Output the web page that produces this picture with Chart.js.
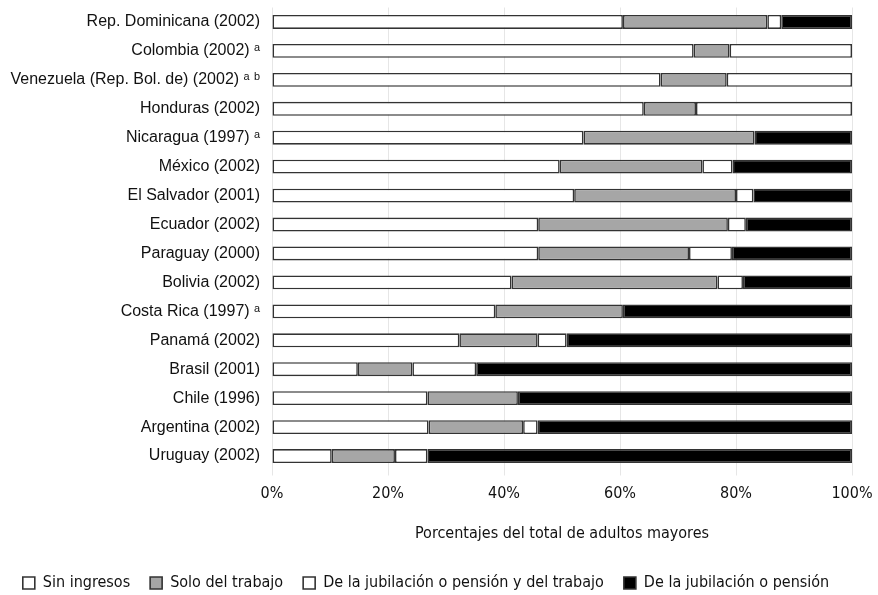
<!DOCTYPE html>
<html>
<head>
<meta charset="utf-8">
<script src="https://cdn.jsdelivr.net/npm/chart.js@4"></script>
<style>
  html, body { margin: 0; padding: 0; background: #fff; overflow: hidden; }
  #wrap { width: 878px; height: 595px; }
</style>
</head>
<body>
<div id="wrap"><canvas id="chart"></canvas></div>
<script>
const countries = [
  "Rep. Dominicana (2002)",
  "Colombia (2002) ᵃ",
  "Venezuela (Rep. Bol. de) (2002) ᵃ ᵇ",
  "Honduras (2002)",
  "Nicaragua (1997) ᵃ",
  "México (2002)",
  "El Salvador (2001)",
  "Ecuador (2002)",
  "Paraguay (2000)",
  "Bolivia (2002)",
  "Costa Rica (1997) ᵃ",
  "Panamá (2002)",
  "Brasil (2001)",
  "Chile (1996)",
  "Argentina (2002)",
  "Uruguay (2002)",
];

// porcentajes por categoría de ingreso
const sinIngresos = [60.5, 72.7, 67.0, 64.1, 53.7, 49.6, 52.1, 45.9, 45.9, 41.3, 38.5, 32.3, 14.8, 26.8, 27.0, 10.3];
const soloTrabajo = [24.9, 6.2, 11.4, 9.0, 29.5, 24.6, 27.9, 32.7, 26.0, 35.5, 22.0, 13.5, 9.4, 15.6, 16.3, 10.9];
const jubYTrabajo = [2.4, 21.1, 21.6, 26.9, 0, 5.2, 3.0, 3.1, 7.4, 4.4, 0, 5.0, 11.0, 0, 2.5, 5.6];
const soloJubilacion = [12.2, 0, 0, 0, 16.8, 20.6, 17.0, 18.3, 20.7, 18.8, 39.5, 49.2, 64.8, 57.6, 54.2, 73.2];

const xTicks = [0, 20, 40, 60, 80, 100];

const narrow = "'Liberation Sans Narrow', 'DejaVu Sans Condensed', sans-serif";

function serie(label, data, color) {
  return {
    label: label,
    data: data,
    backgroundColor: color,
    borderColor: "#333",
    borderWidth: 1.6,
    borderSkipped: false,
    barPercentage: 0.48,
    categoryPercentage: 1,
  };
}

new Chart(document.getElementById("chart"), {
  type: "bar",
  data: {
    labels: countries,
    datasets: [
      serie("Sin ingresos", sinIngresos, "#ffffff"),
      serie("Solo del trabajo", soloTrabajo, "#a6a6a6"),
      serie("De la jubilación o pensión y del trabajo", jubYTrabajo, "#ffffff"),
      serie("De la jubilación o pensión", soloJubilacion, "#000000"),
    ],
  },
  options: {
    indexAxis: "y",
    responsive: true,
    maintainAspectRatio: false,
    animation: false,
    layout: { padding: { top: 7.5, right: 26, left: 0, bottom: -6 } },
    plugins: {
      tooltip: { enabled: false },
      legend: {
        position: "bottom",
        labels: {
          boxWidth: 12,
          boxHeight: 12,
          padding: 20,
          color: "#111",
          font: { family: narrow, size: 16 },
        },
      },
    },
    scales: {
      x: {
        stacked: true,
        min: 0,
        max: 100,
        afterBuildTicks: (scale) => {
          scale.ticks = xTicks.map((v) => ({ value: v }));
        },
        afterFit: (scale) => {
          scale.height = 84.5;
          scale.paddingLeft = 0;
          scale.paddingRight = 0;
        },
        ticks: {
          padding: 8.5,
          color: "#111",
          font: { family: narrow, size: 16 },
          callback: (v) => v + "%",
        },
        grid: { color: "#e6e6e6", tickLength: 5, tickColor: "#e6e6e6" },
        border: { display: false },
        title: {
          display: true,
          text: "Porcentajes del total de adultos mayores",
          color: "#111",
          font: { family: narrow, size: 16 },
          padding: { top: 0, bottom: 12 },
        },
      },
      y: {
        stacked: true,
        afterFit: (scale) => {
          scale.width = 272;
          scale.paddingTop = 0;
          scale.paddingBottom = 0;
        },
        ticks: {
          padding: 12,
          color: "#111",
          font: { family: "'Liberation Sans', Arial, sans-serif", size: 16 },
        },
        grid: { display: false, drawTicks: false },
        border: { display: false },
      },
    },
  },
});
</script>
</body>
</html>
